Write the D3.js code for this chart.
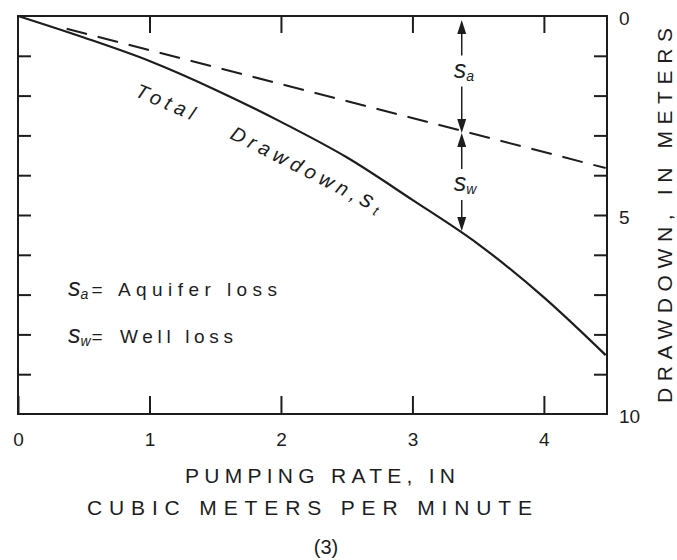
<!DOCTYPE html>
<html><head><meta charset="utf-8">
<script src="https://cdn.jsdelivr.net/npm/d3@7"></script>
<style>
html,body{margin:0;padding:0;background:#fff;}
svg{display:block;font-family:"Liberation Sans",Arial,sans-serif;}
</style></head>
<body><svg id="c" width="677" height="560"></svg>
<script>
// ---- data ----
const xTickValues = [0, 1, 2, 3, 4];
const yTickValues = [1, 2, 3, 4, 5, 6, 7, 8, 9];
const yLabelValues = [0, 5, 10];
const pumpingRate   = [0, 0.5, 1, 1.5, 2, 2.5, 3, 3.5, 4, 4.47];
const totalDrawdown = [0, 0.54, 1.13, 1.85, 2.66, 3.55, 4.62, 5.73, 7.07, 8.52];
const aquiferRate = [0.37, 4.47];
const aquiferLoss = [0.32, 3.82];
const markerRate = 3.375;
const markerLevels = [0, 2.94, 5.4];
const markerSubs = ["a", "w"];
const legendSubs = ["a", "w"];
const legendTexts = ["Aquifer loss", "Well loss"];
const xTitleLines = ["PUMPING RATE, IN", "CUBIC METERS PER MINUTE"];
const yTitle = "DRAWDOWN, IN METERS";
const panelLabel = "(3)";

// ---- layout ----
const ink = "#1d1d1d";
const svg = d3.select("#c");
svg.append("rect").attr("width",677).attr("height",560).attr("fill","#fff");
const L = 18, R = 607, T = 16, B = 414;
const x = d3.scaleLinear().domain([0, 4.48]).range([L, R]);
const y = d3.scaleLinear().domain([0, 10]).range([T, B]);

function styleAxis(g){
  g.select(".domain").remove();
  g.selectAll(".tick line").attr("stroke", ink).attr("stroke-width", 2);
  g.selectAll(".tick text").attr("fill", ink).style("font-size","19px");
}

// ticks
svg.append("g").attr("transform",`translate(0,${B})`)
  .call(d3.axisBottom(x).tickValues(xTickValues).tickSizeInner(-18).tickSizeOuter(0).tickPadding(19).tickFormat(d3.format("d")))
  .call(styleAxis);
svg.append("g").attr("transform",`translate(0,${T})`)
  .call(d3.axisTop(x).tickValues(xTickValues.filter(d=>d>0)).tickSizeInner(-17).tickSizeOuter(0).tickFormat(""))
  .call(styleAxis);
svg.append("g").attr("transform",`translate(${L},0)`)
  .call(d3.axisLeft(y).tickValues(yTickValues).tickSizeInner(-13).tickSizeOuter(0).tickFormat(""))
  .call(styleAxis);
svg.append("g").attr("transform",`translate(${R},0)`)
  .call(d3.axisRight(y).tickValues(yTickValues).tickSizeInner(-13).tickSizeOuter(0).tickFormat(""))
  .call(styleAxis);
svg.append("g").attr("transform",`translate(${R},2)`)
  .call(d3.axisRight(y).tickValues(yLabelValues).tickSize(0).tickPadding(12).tickFormat(d3.format("d")))
  .call(styleAxis);

// frame
svg.append("path")
  .attr("d", `M${L},${T}H${R}V${B}H${L}Z`)
  .attr("fill","none").attr("stroke",ink).attr("stroke-width",2);

// curves
svg.append("path")
  .datum(pumpingRate.map((q,i)=>[q,totalDrawdown[i]]))
  .attr("d", d3.line().x(d=>x(d[0])).y(d=>y(d[1])).curve(d3.curveMonotoneX))
  .attr("fill","none").attr("stroke",ink).attr("stroke-width",2.2);
svg.append("path")
  .datum(aquiferRate.map((q,i)=>[q,aquiferLoss[i]]))
  .attr("d", d3.line().x(d=>x(d[0])).y(d=>y(d[1])))
  .attr("fill","none").attr("stroke",ink).attr("stroke-width",2)
  .attr("stroke-dasharray","21,11");

// marker arrows
const mx = x(markerRate);
function head(tipY, dir){ // dir -1 = pointing up, +1 = pointing down
  const len = 14, hw = 4.5;
  return `M${mx},${tipY}L${mx-hw},${tipY - dir*len}L${mx+hw},${tipY - dir*len}Z`;
}
function sym(sel, sub, size){
  sel.append("tspan").style("font-size", size+"px").text("s");
  sel.append("tspan").attr("dy",3).style("font-size","14px").text(sub);
}
for (let i = 0; i < 2; i++){
  const y0 = y(markerLevels[i]) + (i===0 ? 4 : 0), y1 = y(markerLevels[i+1]);
  const mid = (y(markerLevels[i]) + y1)/2 + (i===0 ? -2 : 4);
  svg.append("line").attr("x1",mx).attr("x2",mx).attr("y1",y0+6).attr("y2",mid-17)
    .attr("stroke",ink).attr("stroke-width",1.5);
  svg.append("line").attr("x1",mx).attr("x2",mx).attr("y1",mid+14).attr("y2",y1-6)
    .attr("stroke",ink).attr("stroke-width",1.5);
  svg.append("path").attr("d",head(y0,-1)).attr("fill",ink);
  svg.append("path").attr("d",head(y1,1)).attr("fill",ink);
  const t = svg.append("text").attr("x",mx-8).attr("y",mid+5)
    .attr("fill",ink).style("font-style","italic");
  sym(t, markerSubs[i], 25);
}

// curve label
svg.append("text").attr("transform","translate(134,96) rotate(23)")
  .attr("fill",ink).style("font-size","20px").style("font-style","italic")
  .style("letter-spacing","5px").text("Total");
const dl = svg.append("text").attr("transform","translate(229,138) rotate(27)")
  .attr("fill",ink).style("font-size","20px").style("font-style","italic")
  .style("letter-spacing","5px");
dl.append("tspan").text("Drawdown,");
dl.append("tspan").style("font-size","24px").text("s");
dl.append("tspan").attr("dy",3).style("font-size","14px").text("t");

// legend
const legendY = [296, 343];
const legendStart = [118, 120];
const legendLen = [159, 113];
legendSubs.forEach((s,i)=>{
  const t = svg.append("text").attr("x",68).attr("y",legendY[i]).attr("fill",ink)
    .style("font-style","italic");
  sym(t, s, 25);
  svg.append("text").attr("x",97).attr("y",legendY[i]).attr("text-anchor","middle")
    .attr("fill",ink).style("font-size","19px").text("=");
  svg.append("text").attr("x",legendStart[i]).attr("y",legendY[i]).attr("fill",ink)
    .style("font-size","19px").attr("textLength",legendLen[i]).attr("lengthAdjust","spacing")
    .text(legendTexts[i]);
});

// axis titles
svg.append("text").attr("x",185).attr("y",483).attr("fill",ink).style("font-size","21px")
  .attr("textLength",270).attr("lengthAdjust","spacing").text(xTitleLines[0]);
svg.append("text").attr("x",87).attr("y",515).attr("fill",ink).style("font-size","21px")
  .attr("textLength",445).attr("lengthAdjust","spacing").text(xTitleLines[1]);
svg.append("text").attr("x",326).attr("y",554).attr("text-anchor","middle").attr("fill",ink)
  .style("font-size","20px").text(panelLabel);
svg.append("text").attr("transform","translate(672,403) rotate(-90)").attr("fill",ink)
  .style("font-size","21px").attr("textLength",375).attr("lengthAdjust","spacing").text(yTitle);
</script></body></html>
